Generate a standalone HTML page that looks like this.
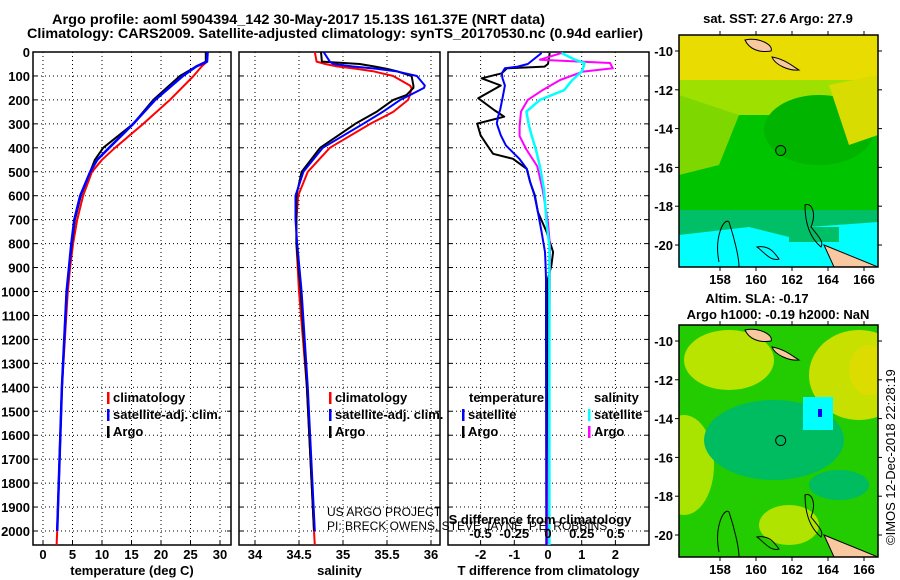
<!DOCTYPE html>
<html><head><meta charset="utf-8"><style>
body{margin:0;background:#fff}
svg{display:block;font-family:"Liberation Sans",sans-serif}
.b{font-weight:bold;font-size:13px}
.t{font-weight:bold;font-size:14px}
</style></head><body>
<svg id="s" width="900" height="580" viewBox="0 0 900 580">
<text class="t" x="52" y="24" textLength="493" lengthAdjust="spacingAndGlyphs">Argo profile: aoml 5904394_142 30-May-2017 15.13S 161.37E (NRT data)</text>
<text class="t" x="27" y="38" textLength="616" lengthAdjust="spacingAndGlyphs">Climatology: CARS2009. Satellite-adjusted climatology: synTS_20170530.nc (0.94d earlier)</text>
<g id="g"></g>
</svg>
<script>
// depth axis
const depthTicks=[0,100,200,300,400,500,600,700,800,900,1000,1100,1200,1300,1400,1500,1600,1700,1800,1900,2000];
// temperature panel
const tempTicks=[0,5,10,15,20,25,30];
const tDepth=[0,40,60,100,200,300,400,450,500,600,700,800,900,1000,1400,2000,2058];
const tArgo=[27.6,27.6,26,23.2,18.7,15.3,10.2,8.8,8,6.4,5.4,4.9,4.4,4.0,3.2,2.4,null];
const tClim=[27.8,27.8,26.9,25.5,21.5,17,12.2,10,8.3,6.8,5.8,5.1,4.6,4.2,3.2,2.4,2.3];
const tSat=[27.9,27.8,26,23.7,19,15.3,11.2,9.2,8,6.3,5.3,4.8,4.4,4.0,3.2,2.4,null];
// salinity panel
const salTicks=[34,34.5,35,35.5,36];
const sDepth=[0,40,50,60,70,80,100,140,150,180,200,250,300,400,500,600,700,800,1000,1400,2000,2058];
const sArgo=[34.75,34.76,35.19,35.35,35.5,35.61,35.78,35.8,35.8,35.72,35.57,35.38,35.14,34.74,34.53,34.47,34.47,34.47,34.52,34.59,34.67,null];
const sClim=[34.68,34.7,34.8,34.93,35.15,35.34,35.57,35.76,35.78,35.76,35.74,35.57,35.31,34.85,34.6,34.49,34.47,34.47,34.5,34.59,34.67,34.68];
const sSat=[34.78,34.85,34.89,35.1,35.38,35.6,35.84,35.93,35.92,35.76,35.65,35.45,35.23,34.77,34.55,34.46,34.46,34.48,34.53,34.6,34.68,null];
// difference panel
const dTTicks=[-2,-1,0,1,2];
const dSTicks=[-0.5,-0.25,0,0.25,0.5];
const dtDepth=[4,50,61,68,89,110,140,193,242,270,299,348,390,425,446,488,543,599,668,752,835,891,947,1200,2058];
const dtArgo=[0.05,0.0,-0.1,-1.22,-1.37,-1.97,-1.4,-2.07,-1.6,-1.3,-2.1,-2.0,-1.8,-1.63,-1.04,-0.63,-0.53,-0.39,-0.3,-0.04,0.15,0.1,0.0,0,0];
const dtSat=[-0.19,-0.6,-0.9,-1.28,-1.37,-1.35,-1.28,-1.35,-1.42,-1.48,-1.52,-1.4,-1.25,-1.0,-0.85,-0.63,-0.53,-0.4,-0.3,-0.19,-0.09,-0.07,-0.06,-0.06,-0.05];
const dsDepth=[4,32,46,68,82,117,159,200,249,310,351,407,477,574,714,812,2058];
const dsArgo=[0.1,-0.06,0.46,0.48,0.26,0.09,-0.04,-0.15,-0.2,-0.21,-0.21,-0.16,-0.08,-0.04,0,0.015,0.0];
const dsSat=[0.1,0.2,0.27,0.26,0.25,0.18,0.12,-0.06,-0.16,-0.14,-0.12,-0.09,-0.06,-0.03,-0.01,0.01,0.01];
const latTicks=[-10,-12,-14,-16,-18,-20];
const lonTicks=[158,160,162,164,166];

const NS="http://www.w3.org/2000/svg", G=document.getElementById('g');
function el(t,a,p){const e=document.createElementNS(NS,t);for(const k in a)e.setAttribute(k,a[k]);(p||G).appendChild(e);return e;}
const Y0=52, YB=545, yD=d=>Y0+d*0.2395;
const panels=[
 {l:33,r:231,x:v=>43+(v-0)*5.9,ticks:tempTicks,name:'temperature-panel',title:'temperature (deg C)'},
 {l:239,r:440,x:v=>255+(v-34)*88,ticks:salTicks,name:'salinity-panel',title:'salinity'},
 {l:448,r:649,x:v=>548+v*33.7,ticks:dTTicks,name:'difference-panel',title:'T difference from climatology'}];
const xS=v=>548+v*135;
panels.forEach((P,i)=>{
 const g=el('g',{});
 
 
 el('rect',{x:P.l,y:Y0,width:P.r-P.l,height:YB-Y0,fill:'#fff',stroke:'#000','stroke-width':1.5},g);
 depthTicks.forEach(d=>{if(d>0)el('line',{x1:P.l,x2:P.r,y1:yD(d),y2:yD(d),stroke:'#000','stroke-dasharray':'1,3'},g);
   el('line',{x1:P.l,x2:P.l+4,y1:yD(d),y2:yD(d),stroke:'#000'},g);el('line',{x1:P.r-4,x2:P.r,y1:yD(d),y2:yD(d),stroke:'#000'},g);});
 P.ticks.forEach(v=>{const x=P.x(v);el('line',{x1:x,x2:x,y1:Y0,y2:YB,stroke:'#000','stroke-dasharray':'1,3'},g);
   el('line',{x1:x,x2:x,y1:YB-4,y2:YB,stroke:'#000'},g);
   const t=el('text',{x:x,y:559,'text-anchor':'middle',class:'b'},g);t.textContent=v;
   
   });
 const tt=el('text',{x:(P.l+P.r)/2,y:575,'text-anchor':'middle',class:'b'},g);tt.textContent=P.title;
 
 
});
depthTicks.forEach(d=>{const t=el('text',{x:30,y:yD(d)+5,'text-anchor':'end',class:'b'});t.textContent=d;
 
 });
function line(dep,vals,fx,col,w,name){let pts=[];dep.forEach((d,i)=>{if(vals[i]!==null)pts.push(fx(vals[i]).toFixed(1)+','+yD(d).toFixed(1));});
 const p=el('polyline',{points:pts.join(' '),fill:'none',stroke:col,'stroke-width':w,'stroke-linejoin':'round'});
 
 }
const fT=panels[0].x,fS=panels[1].x,fD=panels[2].x;
line(tDepth,tClim,fT,'#f00',2,'temp-climatology-line');
line(tDepth,tArgo,fT,'#000',2,'temp-argo-line');
line(tDepth,tSat,fT,'#00f',2.5,'temp-satellite-line');
line(sDepth,sClim,fS,'#f00',2,'sal-climatology-line');
line(sDepth,sArgo,fS,'#000',2,'sal-argo-line');
line(sDepth,sSat,fS,'#00f',2,'sal-satellite-line');
line(dtDepth,dtArgo,fD,'#000',2,'tdiff-argo-line');
line(dsDepth,dsArgo,xS,'#f0f',2,'sdiff-argo-line');
line(dsDepth,dsSat,xS,'#0ff',2.5,'sdiff-satellite-line');
line(dtDepth,dtSat,fD,'#00f',2,'tdiff-satellite-line');
dSTicks.forEach(v=>{const t=el('text',{x:xS(v),y:538,'text-anchor':'middle',class:'b'});t.textContent=v;
 
 });
function leg(x,y,col,txt,bar){if(bar!==false)el('rect',{x:x-6,y:y-10,width:2.5,height:12,fill:col});
 const t=el('text',{x:x,y:y,class:'b'});t.textContent=txt;
 
 }
leg(113,402,'#f00','climatology');leg(113,419,'#00f','satellite-adj. clim.');leg(113,436,'#000','Argo');
leg(335,402,'#f00','climatology');leg(335,419,'#00f','satellite-adj. clim.');leg(335,436,'#000','Argo');
leg(469,402,'#000','temperature',false);leg(468,419,'#00f','satellite');leg(468,436,'#000','Argo');
leg(594,402,'#000','salinity',false);leg(594,419,'#0ff','satellite');leg(594,436,'#f0f','Argo');
[['US ARGO PROJECT',516],['PI: BRECK OWENS, STEVE JAYNE, P.E. ROBBINS',530]].forEach(a=>{const t=el('text',{x:327,y:a[1],'font-size':12});t.textContent=a[0];
 
 });
const st=el('text',{x:540,y:524,'text-anchor':'middle',class:'b'});st.textContent='S difference from climatology';



// maps
function map(top,name,title1,title2,kind){
 const L=679,R=878,T=top,B=top+232;
 const lat=v=>top+16+(-10-v)*19.4, lon=v=>720+(v-158)*18;
 const g=el('g',{});
 
 
 const cp=el('clipPath',{id:'c'+top},g);el('rect',{x:L,y:T,width:R-L,height:B-T},cp);
 const m=el('g',{'clip-path':'url(#c'+top+')'},g);
 if(kind===0){
  el('rect',{x:L,y:T,width:200,height:232,fill:'#00bf66'},m);
  el('rect',{x:L,y:T,width:200,height:175,fill:'#00c400'},m);
  el('rect',{x:L,y:T,width:200,height:80,fill:'#9ee000'},m);
  el('rect',{x:L,y:T,width:200,height:45,fill:'#e8dc00'},m);
  el('path',{d:`M${L} ${T+60}L${L+60} ${T+80}L${L+40} ${T+130}L${L} ${T+140}Z`,fill:'#7ed800'},m);
  el('ellipse',{cx:L+140,cy:T+95,rx:55,ry:35,fill:'#00b400'},m);
  el('path',{d:`M${L+150} ${T+50}L${R} ${T+40}L${R} ${T+100}L${L+170} ${T+110}Z`,fill:'#d8dc00'},m);
  el('path',{d:`M${L} ${B-32}L${L+70} ${B-40}L${L+110} ${B-30}L${L+130} ${B-40}L${R} ${B-45}L${R} ${B}L${L} ${B}Z`,fill:'#00ffff'},m);
  el('rect',{x:L+110,y:B-40,width:50,height:15,fill:'#00bf66'},m);
 } else {
  el('rect',{x:L,y:T,width:200,height:232,fill:'#22cc00'},m);
  el('ellipse',{cx:L+50,cy:T+35,rx:45,ry:30,fill:'#b8e400'},m);
  el('ellipse',{cx:L+180,cy:T+50,rx:50,ry:45,fill:'#c8e000'},m);
  el('ellipse',{cx:L+190,cy:T+45,rx:20,ry:25,fill:'#dcdc00'},m);
  el('ellipse',{cx:L+5,cy:T+140,rx:30,ry:50,fill:'#a8e400'},m);
  el('ellipse',{cx:L+110,cy:T+200,rx:30,ry:20,fill:'#b0e400'},m);
  el('ellipse',{cx:L+95,cy:T+115,rx:70,ry:40,fill:'#00bc60'},m);
  el('ellipse',{cx:L+160,cy:T+160,rx:30,ry:15,fill:'#00bc60'},m);
  el('rect',{x:L+124,y:T+72,width:30,height:33,fill:'#00ffff'},m);
  el('rect',{x:L+139,y:T+84,width:4,height:8,fill:'#0000ff'},m);
 }
 el('path',{d:`M${L+66} ${T+5}C${L+80} ${T+2} ${L+95} ${T+10} ${L+92} ${T+16}C${L+80} ${T+18} ${L+70} ${T+14} ${L+66} ${T+5}Z`,fill:'#f8c8a0',stroke:'#000'},m);
 el('path',{d:`M${L+93} ${T+22}C${L+105} ${T+24} ${L+112} ${T+30} ${L+120} ${T+35}C${L+110} ${T+36} ${L+96} ${T+30} ${L+93} ${T+22}Z`,fill:'#f8c8a0',stroke:'#000'},m);
 el('path',{d:`M${L+145} ${B-22}L${R} ${B}L${L+155} ${B}Z`,fill:'#f8c8a0',stroke:'#000'},m);
 el('path',{d:`M${L+40} ${B-5}C${L+35} ${B-30} ${L+45} ${B-50} ${L+50} ${B-45}C${L+55} ${B-30} ${L+60} ${B-10} ${L+60} ${B}`,fill:'none',stroke:'#000'},m);
 el('path',{d:`M${L+126} ${B-62}C${L+132} ${B-65} ${L+138} ${B-55} ${L+132} ${B-40}C${L+140} ${B-30} ${L+145} ${B-25} ${L+142} ${B-20}C${L+130} ${B-30} ${L+126} ${B-45} ${L+126} ${B-62}Z`,fill:'none',stroke:'#000'},m);
 el('path',{d:`M${L+78} ${B-20}C${L+90} ${B-22} ${L+95} ${B-15} ${L+100} ${B-8}C${L+92} ${B-5} ${L+85} ${B-15} ${L+78} ${B-20}Z`,fill:'none',stroke:'#000'},m);
 el('circle',{cx:lon(161.37),cy:lat(-15.13),r:5,fill:'none',stroke:'#000'},g);
 el('rect',{x:L,y:T,width:R-L,height:B-T,fill:'none',stroke:'#000','stroke-width':1.5},g);
 latTicks.forEach(v=>{const y=lat(v);el('line',{x1:L-4,x2:L,y1:y,y2:y,stroke:'#000'},g);el('line',{x1:R,x2:R+4,y1:y,y2:y,stroke:'#000'},g);
  const t=el('text',{x:L-6,y:y+5,'text-anchor':'end',class:'b'},g);t.textContent=v;
  
  });
 lonTicks.forEach(v=>{const x=lon(v);el('line',{x1:x,x2:x,y1:B,y2:B+4,stroke:'#000'},g);el('line',{x1:x,x2:x,y1:T-4,y2:T,stroke:'#000'},g);
  const t=el('text',{x:x,y:B+17,'text-anchor':'middle',class:'b'},g);t.textContent=v;
  
  });
 const a=el('text',{x:title2?757:778,y:title2?top-22:top-12,'text-anchor':'middle',class:'b'},g);a.textContent=title1;
 
 
 if(title2){const b=el('text',{x:778,y:top-6,'text-anchor':'middle',class:'b'},g);b.textContent=title2;
  
  }
}
map(35,'sst-map','sat. SST: 27.6 Argo: 27.9',null,0);
map(325,'sla-map','Altim. SLA: -0.17','Argo h1000: -0.19 h2000: NaN',1);
const ts=el('text',{x:0,y:0,'font-size':13,transform:'translate(895,545) rotate(-90)'});ts.textContent='©IMOS 12-Dec-2018 22:28:19';


</script>
</body></html>
